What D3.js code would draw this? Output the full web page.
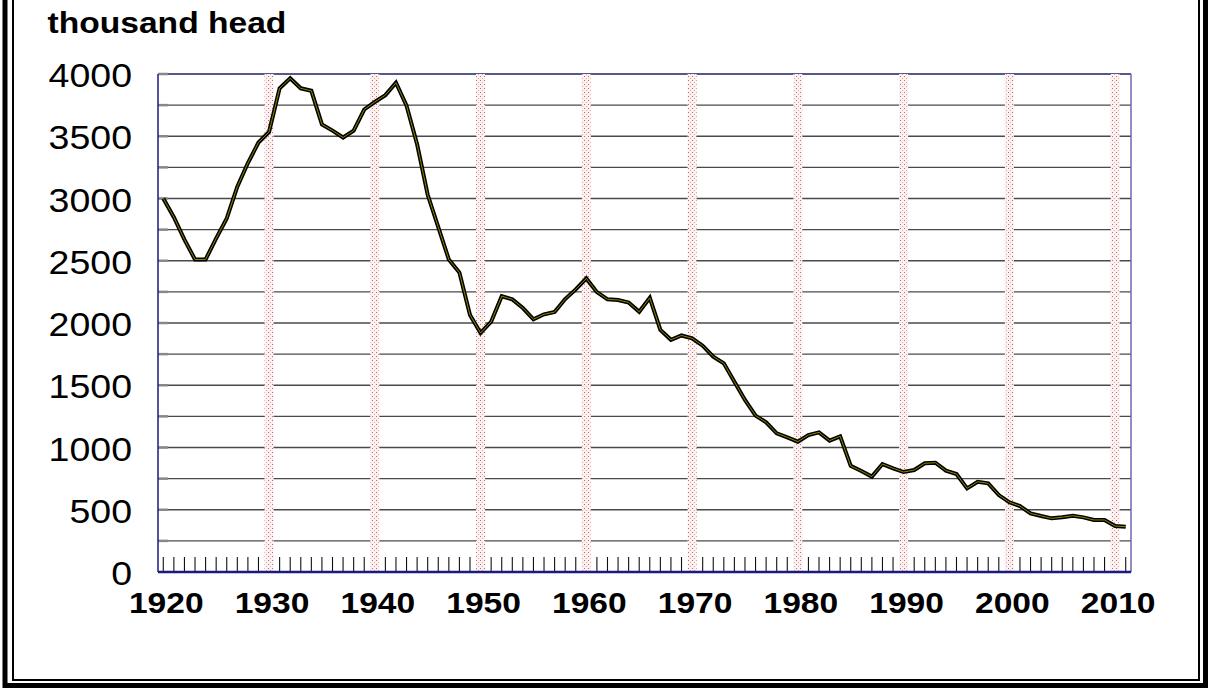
<!DOCTYPE html>
<html lang="en">
<head>
    <meta charset="UTF-8">
    <title>thousand head</title>
    <script src="https://d3js.org/d3.v7.min.js"></script>
    <style>
        body {
          margin: 0;
          background: #fff;
        }
        svg text {
          font-family: "Liberation Sans", Arial, sans-serif;
          fill: #000;
        }
    </style>
</head>
<body>
<div id="chart"></div>

<script>
    // Years on the category axis
    const years = d3.range(1920, 2012);

    // Head count (thousand), one value per year
    const headCounts = [
        3000, 2850, 2670, 2510, 2510, 2680, 2840, 3095, 3285, 3450,
        3535, 3885, 3965, 3885, 3865, 3595, 3545, 3490, 3545, 3715,
        3775, 3830, 3930, 3745, 3435, 3030, 2770, 2510, 2405, 2065,
        1920, 2010, 2215, 2190, 2120, 2030, 2070, 2088, 2192, 2270,
        2358, 2248, 2190, 2185, 2165, 2090, 2202, 1945, 1865, 1900,
        1877, 1818, 1730, 1676, 1528, 1382, 1256, 1202, 1114, 1082,
        1047, 1100, 1122, 1055, 1090, 852, 811, 766, 867, 833,
        803, 819, 873, 878, 814, 787, 672, 725, 712, 618,
        560, 530, 471, 450, 431, 440, 452, 439, 418, 418,
        369, 364
    ];

    // Axis labels
    const yTickLabels = [0, 500, 1000, 1500, 2000, 2500, 3000, 3500, 4000];
    const gridValues = d3.range(250, 4001, 250);
    const decadeYears = [1920, 1930, 1940, 1950, 1960, 1970, 1980, 1990, 2000, 2010];
    const bandYears = [1930, 1940, 1950, 1960, 1970, 1980, 1990, 2000, 2010];

    const width = 1208;
    const height = 688;
    const plot = { left: 158, right: 1131, top: 74, bottom: 572 };
    const stretch = 1.12; // the text in the picture is a little wide

    const svg = d3.select("#chart")
        .append("svg")
        .attr("width", width)
        .attr("height", height);

    // dotted pale pink fill for the decade bands
    const pat = svg.append("defs").append("pattern")
        .attr("id", "dots")
        .attr("patternUnits", "userSpaceOnUse")
        .attr("width", 4)
        .attr("height", 4);
    pat.append("rect").attr("width", 4).attr("height", 4).attr("fill", "#fdf0f0");
    pat.append("rect").attr("x", 0).attr("y", 0).attr("width", 1).attr("height", 1).attr("fill", "#b07070");
    pat.append("rect").attr("x", 2).attr("y", 2).attr("width", 1).attr("height", 1).attr("fill", "#e0a8a8");

    // scales
    const x = d3.scaleBand()
        .domain(years)
        .range([plot.left, plot.right]);
    const xc = d => x(d) + x.bandwidth() / 2;

    const y = d3.scaleLinear()
        .domain([0, 4000])
        .range([plot.bottom, plot.top]);

    // double frame round the picture
    svg.append("path")
        .attr("d", `M5,0 V685.5 H1205.5 V0`)
        .attr("fill", "none")
        .attr("stroke", "#000")
        .attr("stroke-width", 5);
    svg.append("path")
        .attr("d", `M13,0 V680 H1199 V0`)
        .attr("fill", "none")
        .attr("stroke", "#000")
        .attr("stroke-width", 2);

    // horizontal grid lines
    svg.append("g")
        .selectAll("line")
        .data(gridValues)
        .join("line")
        .attr("x1", plot.left)
        .attr("x2", plot.right)
        .attr("y1", d => y(d))
        .attr("y2", d => y(d))
        .attr("stroke", d => d === 4000 ? "#202060" : "#4a4a4a")
        .attr("stroke-width", 1.4);

    // short inner ticks on the left axis
    svg.append("g")
        .selectAll("line")
        .data(gridValues)
        .join("line")
        .attr("x1", plot.left)
        .attr("x2", plot.left + 10)
        .attr("y1", d => y(d))
        .attr("y2", d => y(d))
        .attr("stroke", "#888")
        .attr("stroke-width", 2.5);

    // year ticks along the bottom
    svg.append("g")
        .selectAll("line")
        .data(years)
        .join("line")
        .attr("x1", d => xc(d))
        .attr("x2", d => xc(d))
        .attr("y1", plot.bottom - 15)
        .attr("y2", plot.bottom)
        .attr("stroke", "#111")
        .attr("stroke-width", 1.1);

    // pink decade bands
    svg.append("g")
        .selectAll("rect")
        .data(bandYears)
        .join("rect")
        .attr("x", d => xc(d) - 4.5)
        .attr("y", plot.top)
        .attr("width", 9)
        .attr("height", plot.bottom - plot.top)
        .attr("fill", "url(#dots)");

    // axis frame lines
    svg.append("line")
        .attr("x1", plot.left).attr("x2", plot.left)
        .attr("y1", plot.top).attr("y2", plot.bottom)
        .attr("stroke", "#1a1a80").attr("stroke-width", 1.5);
    svg.append("line")
        .attr("x1", plot.right).attr("x2", plot.right)
        .attr("y1", plot.top).attr("y2", plot.bottom)
        .attr("stroke", "#6a6ab0").attr("stroke-width", 1.5);
    svg.append("line")
        .attr("x1", plot.left).attr("x2", plot.right)
        .attr("y1", plot.bottom).attr("y2", plot.bottom)
        .attr("stroke", "#1a1a80").attr("stroke-width", 2.5);

    // the series: black line with a yellow core
    const line = d3.line()
        .x((d, i) => xc(years[i]))
        .y(d => y(d));

    svg.append("path")
        .datum(headCounts)
        .attr("d", line)
        .attr("fill", "none")
        .attr("stroke", "#000")
        .attr("stroke-width", 4)
        .attr("stroke-linejoin", "miter");
    svg.append("path")
        .datum(headCounts)
        .attr("d", line)
        .attr("fill", "none")
        .attr("stroke", "#8f8700")
        .attr("stroke-width", 1);

    // y labels
    svg.append("g")
        .selectAll("text")
        .data(yTickLabels)
        .join("text")
        .attr("transform", d => `translate(132,${y(d) + 13}) scale(${stretch},1)`)
        .attr("text-anchor", "end")
        .style("font-size", "33.5px")
        .text(d => d);

    // x labels
    svg.append("g")
        .selectAll("text")
        .data(decadeYears)
        .join("text")
        .attr("transform", d => `translate(${xc(d) + 3},613) scale(${stretch},1)`)
        .attr("text-anchor", "middle")
        .style("font-size", "30px")
        .style("font-weight", "bold")
        .text(d => d);

    // unit title
    svg.append("text")
        .attr("transform", `translate(47.5,33) scale(${stretch},1)`)
        .style("font-size", "30px")
        .style("font-weight", "bold")
        .text("thousand head");
</script>
</body>
</html>
